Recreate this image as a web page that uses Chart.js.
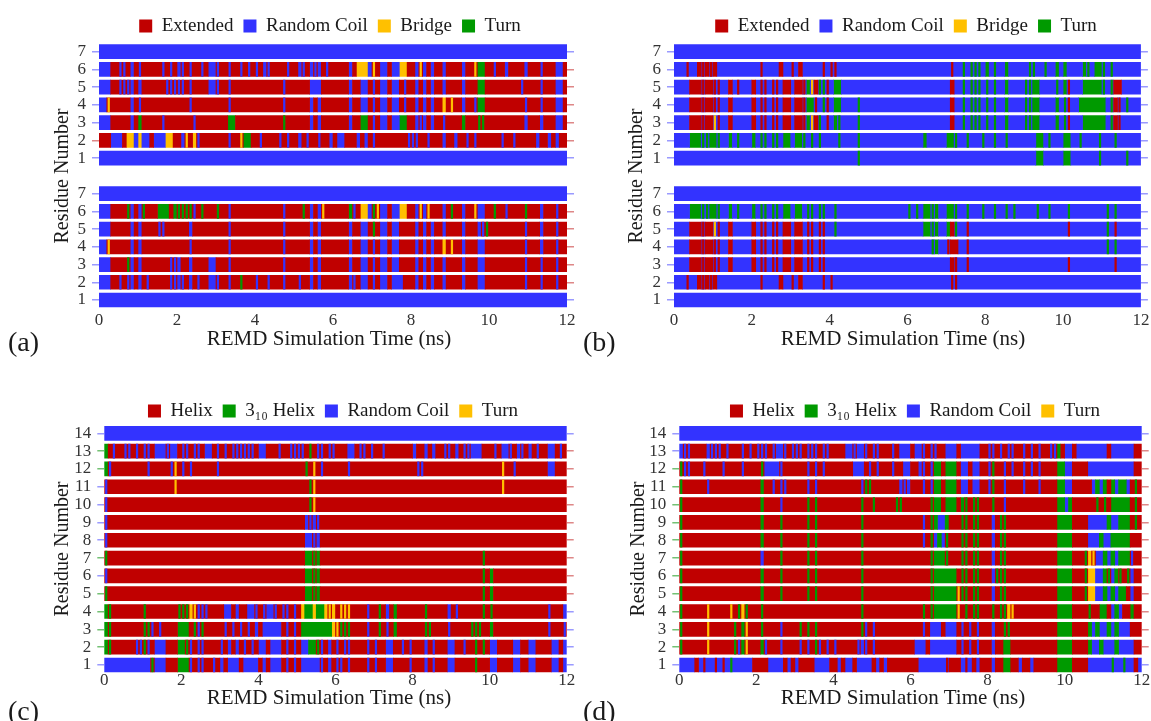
<!DOCTYPE html>
<html>
<head>
<meta charset="utf-8">
<title>REMD secondary structure</title>
<script src="https://cdn.jsdelivr.net/npm/chart.js@4"></script>
<style>
  body { margin: 0; background: #fff; }
  #page { position: relative; width: 1151px; height: 721px; overflow: hidden;
          font-family: 'Liberation Serif', 'Times New Roman', serif; color: #1a1a1a; }
  canvas { position: absolute; }
  .ytitle, .xtitle, .tag { position: absolute; white-space: nowrap; }
  .ytitle { font-size: 20px; transform: translate(-50%, -50%) rotate(-90deg); }
  .xtitle { font-size: 21px; transform: translate(-50%, -50%); }
  .tag { font-size: 28px; transform: translate(0, -50%); }
</style>
</head>
<body>
<div id="page">
  <canvas id="chartA" width="580" height="360" style="left:0;top:0"></canvas>
  <canvas id="chartB" width="571" height="360" style="left:580px;top:0"></canvas>
  <canvas id="chartC" width="580" height="341" style="left:0;top:380px"></canvas>
  <canvas id="chartD" width="571" height="341" style="left:580px;top:380px"></canvas>

  <div class="ytitle" style="left:61px;top:176px">Residue Number</div>
  <div class="ytitle" style="left:635px;top:176px">Residue Number</div>
  <div class="ytitle" style="left:61px;top:549px">Residue Number</div>
  <div class="ytitle" style="left:637px;top:549px">Residue Number</div>

  <div class="xtitle" style="left:329px;top:338px">REMD Simulation Time (ns)</div>
  <div class="xtitle" style="left:903px;top:338px">REMD Simulation Time (ns)</div>
  <div class="xtitle" style="left:329px;top:697px">REMD Simulation Time (ns)</div>
  <div class="xtitle" style="left:903px;top:697px">REMD Simulation Time (ns)</div>

  <div class="tag" style="left:8px;top:342px">(a)</div>
  <div class="tag" style="left:583px;top:342px">(b)</div>
  <div class="tag" style="left:8px;top:711px">(c)</div>
  <div class="tag" style="left:583px;top:711px">(d)</div>
</div>

<script>
// Secondary structure per residue over 0-12 ns, in 0.1 ns frames.
// Row format: "<base>:" + frames. '.' = base state, lower case = whole frame in
// that state, upper case = a brief visit to that state inside a base frame.
// r = red, b = blue, y = yellow, g = green.
const NBINS = 120;
const BIN = 0.1;
const THIN = 0.04;
const timeTicks = [0, 2, 4, 6, 8, 10, 12];

const colors = { r: '#c00000', b: '#3333ff', y: '#ffc000', g: '#009a00' };
const tickTint = { r: 'rgba(205,70,70,0.65)', b: 'rgba(100,100,255,0.65)',
                   y: 'rgba(255,170,0,0.75)', g: 'rgba(40,160,40,0.65)' };

const sheetCodes = ['r', 'b', 'y', 'g'];
const sheetLabels = ['Extended', 'Random Coil', 'Bridge', 'Turn'];
const helixCodes = ['r', 'g', 'b', 'y'];
const helixLabels = ['Helix', '3\u2081\u2080 Helix', 'Random Coil', 'Turn'];

// residues 1..7
const aUpper = [
  "b:",
  "r:...bbb.yyb ybb.bbbyy. .bY.yB.... ...B..Ygg. .B....B.B. .b.B..B..b .bb...b.b. B........B BB..B...b. .b..B.B... ...B..B... ..b..b.b..",
  "r:bbb.....b. g.....B... ....B..... ...gg..... .......G.. ....b.b... ....b..gg. B.bb.bbgg. .bBb.b..B. ...g...GG. .........b ...b...bb.",
  "r:bbY.....b. B......... ...B...... ...B...... .......B.. ....b.b... ....b..bb. B.bb.bb.B. .b.b.b..y. Y..b..Bgg. .........B ...B...bb.",
  "r:bbb..BBBb. b......BBB BB.B....bb B..B...... .......B.. ....bbb... ....b..bb. B.bb.bb.B. .b.b.b..b. ...b...gg. ........B. ...B...bb.",
  "r:bbb..BB.b. B.....B.B. bB.B..B.bb B..B..B.B. B.bB....B. .bB.bBb.B. ....b.yyyb Y.bb.bbyy. .bYb.b..b. ...b..Ygg. .B..b....b ...B...bb.",
  "b:"
];
const aLower = [
  "b:",
  "r:bbb..B.Bb. b.B.....BB bB.b.B..bb B..B..G... B..B...B.. .B..b.b... ....bB.bb. B.bb.bbb.. .b.b.b..b. ...b...bb. .........B ...B...B..",
  "r:bbb....Gb. b.......BB b..b....bb ...B...... .......B.. ....b.b... ....b..bb. B.bb.bb... .b.b.b..b. ...b...bb. .........B ...B...B..",
  "r:bbY.....b. b......... ...B...... ...B...... .......B.. ....b.b... ....b..bb. B.bb.bb... .b.b.b..y. Y..b...bb. .........B ...b...B..",
  "r:bbb.....b. b....BB... ...b...... ...B...... .......B.. ....b.b... ....b..bb. G.bb.bb... .b.b.b..b. ...b...bBG .........B ...b...B..",
  "r:bbb....Gb. bG...ggg.g GGGGB.G... G..B...... .......B.. ..G.b.bY.. ....gB.yyb GYbb.bbyy. .bYbY...b. G..b..Ybb. .G..B....G ...b...B..",
  "b:"
];

const bUpper = [
  "b:.......... .......... .......... .......... .......G.. .......... .......... .......... .......... ...gg..... gg.......G ......G...",
  "b:....gggGGg gG..g.G... g.GG.GG.gg .ggG.G.G.. ..G....G.. .......... ....g..... ggG..G...G ..G..G.... ...gg.G... gg..G....G ...G......",
  "b:....rrrRrr YR..r..... r.RR.RR.rr .rrRgYrG.R .gG....G.. .......... .......... .r..G.GGG. G.G..g.... GGgg....g. GR...ggggg g.GrR.....",
  "b:....rrrRrr RR..r..... r.RR.RR.rr .rrRggR.GR .gg....G.. .......... .......... .r..G.GGG. G.G..g.... GGgg....g. GR..gggggg g.GrR.G...",
  "b:....rrrRrr RR..r.R... r.RR.RR.rr .rrRgYrGGR .gg....... .......... .......... .r..G.GGG. G.G..g.... GGgg....G. gR...ggggg G.Grr.....",
  "b:...R..rRrR r......... ..R....r.. R.r.....R. RR........ .......... .......... .R..G.GGG. g.G..g.... .GG..G..g. g....gG.gg G.G.......",
  "b:"
];
const bLower = [
  "b:",
  "b:...R..rRrR r......... ..R....r.. R.r.....R. R......... .......... .......... .RR.......",
  "b:....rrrRrr RR..r..... r.RR.RR.rr .rr.RR.RR. .......... .......... .......... .rR..R.... .......... .......... .R........ ...R......",
  "b:....rrrRrr RR..r..... r.RR.RR.rr .rr.RR.RR. .......... .......... ......Gg.. Rrr..R.... .......... .......... .......... .G.G......",
  "b:....rrrRrr YR..r..... r.RR.RR.rr .rr.RR.RR. .G........ .......... ....ggGg.. grG..R.... .......... .......... .R........ .G.R......",
  "b:....gggGGg gG..g.G... g.GG.GG.gg .gg.GG.GG. .G........ .......... G.G.ggGg.. ggG..G...G ..G..G.G.. ...G..G... .G........ .G.G......",
  "b:"
];

// residues 1..14
const cRows = [
  "r:bbbbbbbbbb bbGbbb...g ggB.BB..B. b.bbb.bbbb .b.bbb.B.B .bbbbbB.b. BB.B....B. B..bb....B ...b.B...b b.....G... bb....bb.. bb....bb.b",
  "r:gG......BB GB.bbb...g gGB.BB.... B.b.b.B.B. bb.bbb.B.B .bbggGB.b. B.BB....B. B..bb..B.B ...b.B...b b..B..G.G. bb....bb.. bb....bb.b",
  "r:gG........ GGB.B....g gg.GBG.... .B.B.B.B.b .bbbbb.B.B .ggggggggy YGGG....B. .G.B.g.... ...GG....B .....GGG.. g......... .....B...B",
  "r:gG........ G........G GGyYBBB... .bb.b..bbB .BbbB.BB.B .yggyggyYy .YYY....B. .G.b.g.... ...G.....b .B......G. G......... .....B...b",
  "r:G......... .......... .......... .......... .......... ..ggGg.... .......... .......... .......... ........G. g......... ..........",
  "r:B......... .......... .......... .......... .......... ..ggGg.... .......... .......... .......... ........G. g......... ..........",
  "r:G......... .......... .......... .......... .......... ..ggGg.... .......... .......... .......... ........G. .......... ..........",
  "r:B......... .......... .......... .......... .......... ..bbBb....",
  "r:B......... .......... .......... .......... .......... ..bBbB....",
  "r:B......... .......... .......... .......... .......... ...GY.....",
  "r:B......... ........Y. .......... .......... .......... ...GY..... .......... .......... .......... .......... ...Y......",
  "r:gB........ .B.....BY. B.B......B .......... .......... ..G.Y.B... ...B...... .......... .BB....... .......... ...Y..B... .....bb...",
  "r:g.B..BB.B. BB.bbbBbb. BB.BB.bb.B .B.BBBBBB. bb...B..BB BB.G.BB.BB ...bb.BB.B ..B....... b..b.b..BB .b.BBbbb.. .B.bbB.bB. b.B..bb.B.",
  "b:"
];

const dRows = [
  "b:....r.R..R .R.G.....r rrr....r.r .rrrr....r r.r..r.... r.r.rrrrrr rr.......R rrr.R.r.rr r.rrggrr.r r.rrrrrrgg ggrrrr.... ..G..G..r.",
  "r:G......Y.. ....GBgY.. .gB...B... .B.B.GB.B. B.....BbB. B......... .bbb.bbbbb bb.B.B.B.. .b..gg.... ........gg gg....gbbg bbbgbbbb..",
  "r:G......Y.. ....G.gY.. .G....B... .G.G.G.... .......GB. B......... ...B.bbb.b bb.B.B.B.. .b..GG.... ........gg gg....gbgb bgbgbbb...",
  "r:G......Y.. ...Y.GyG.. .G........ .......... .......G.. .......... ...G.Ggggg ggY.G.GG.. .G.GGyY... ........gg gg....G..g g.bgb..g..",
  "r:G......... .......... .g....G... ...G.G.... .......G.. .......... .....Ggggg ggYGG.GG.. .b.GG..... ........gg gg...Gyybb gbgbgg.b..",
  "r:G......... .......... .g....G... ...G.G.... .......G.. .......... .....Ggggg gg.GG.GG.. .bGGG..... ........gg gg...Gyybb gGbgG.Gb..",
  "r:G......... .......... .b....G... ...G.G.... .......G.. .......... .....GgggG ...GG.GG.. .b.GG..... ........gg gg...GyYbb gbgbgggB..",
  "r:G......... .......... .g....G... ...G.G.... .......G.. .......... ...B.GbgbG ...GG.GG.. .b.GG..... ........gg gg....bbbg bbggggg...",
  "r:G......... .......... .g....G... ...G.G.... .......G.. .......... ...B.Ggbbg ...GG.GG.. .b.GG..... ........gg gg....bbbb bgbbggg.G.",
  "r:G......... .......... .g....B... ...G.G.... .......G.. G.....GG.. .....Ggg.g gg.gG.GG.. .G..B..... ........gg bg......G. G.ggggg.G.",
  "r:G......B.. .......... .g..B.BB.. ...B.B.... .......BGG .......bBb ...B.Bgg.g gg.bb.bb.. BG..B....B ...B....gg bb.....bgb g.gbggb.G.",
  "r:GBB...B... .B....B... .GbbbbB... ...B.B.B.. .....bbb.B .B...B..bb ..bB.Bgg.g gg.bb.bb.. BG..B.B..B .B.B....gg bb....bbbb bbbbbbbb..",
  "r:bBB....bBB B.B...B.B. BBB.BbbB.B BB.BBB.BB. ...bbBbbB. BB...B.bbb .bbB.BB..b bb.bbbbb.. BB.B.BB..B .B.B..BBg. bb.bbbbbbb b.bbbbbb..",
  "b:"
];

function decode(row) {
  const base = row[0];
  const groups = row.slice(2).trim().split(/\s+/).filter(Boolean);
  let body = groups.map(g => g.padEnd(10, '.').slice(0, 10)).join('');
  body = body.padEnd(NBINS, '.').slice(0, NBINS);
  const fill = [], thin = [], mark = [];
  for (let i = 0; i < NBINS; i++) {
    const c = body[i];
    if (c === '.') { fill.push(base); mark.push(base); }
    else if (c === c.toLowerCase()) { fill.push(c); mark.push(c); }
    else { fill.push(base); thin.push([i, c.toLowerCase()]); mark.push(c.toLowerCase()); }
  }
  return { fill, thin, first: mark[0], last: mark[NBINS - 1] };
}

function buildDatasets(rowSets, codes, labels) {
  const full = {}, brief = {};
  codes.forEach(c => { full[c] = []; brief[c] = []; });
  const edges = {};
  const rowValues = [];
  rowSets.forEach(({ rows, offset }) => {
    rows.forEach((row, k) => {
      const y = k + 1 + offset;
      rowValues.push(y);
      const { fill, thin, first, last } = decode(row);
      let start = 0;
      for (let i = 1; i <= NBINS; i++) {
        if (i === NBINS || fill[i] !== fill[start]) {
          full[fill[start]].push({ x: [start * BIN, i * BIN], y });
          start = i;
        }
      }
      thin.forEach(([i, c]) => {
        const mid = (i + 0.5) * BIN;
        brief[c].push({ x: [mid - THIN / 2, mid + THIN / 2], y });
      });
      edges[y] = [first, last];
    });
  });
  const common = { barThickness: 14, grouped: false, borderWidth: 0 };
  const datasets = codes.map((c, i) => ({
    label: labels[i], data: full[c], backgroundColor: colors[c], order: 1, ...common
  })).concat(codes.map(c => ({
    label: '', data: brief[c], backgroundColor: colors[c], order: 0, ...common
  })));
  return { datasets, edges, rowValues };
}

// places the legend row at a given centre without changing the plot area
const legendNudge = {
  id: 'legendNudge',
  afterLayout(chart, args, opts) {
    const lg = chart.legend;
    if (!lg) return;
    const dx = opts.centerX - (lg.left + lg.right) / 2;
    lg.left += dx; lg.right += dx;
    lg.top += opts.shift; lg.bottom += opts.shift;
  }
};

function drawPanel(id, rowSets, codes, labels, box) {
  const { datasets, edges, rowValues } = buildDatasets(rowSets, codes, labels);
  const yMax = Math.max(...rowValues) + 0.5;
  const rowTicks = s => { s.ticks = rowValues.map(v => ({ value: v })); };
  const split = rowSets.length > 1;
  const residueOf = v => String(split && v > 8 ? v - 8 : v);
  const edgeColor = side => c => (c.tick && edges[c.tick.value]) ? tickTint[edges[c.tick.value][side]] : 'rgba(0,0,0,0)';
  const tickFont = { family: "'Liberation Serif', serif", size: 17 };

  new Chart(document.getElementById(id), {
    type: 'bar',
    data: { datasets },
    options: {
      indexAxis: 'y',
      responsive: false,
      animation: false,
      events: [],
      layout: { padding: box.pad },
      plugins: {
        legend: {
          position: 'top',
          labels: {
            font: { family: "'Liberation Serif', serif", size: 19 },
            color: '#1a1a1a',
            boxWidth: 13,
            boxHeight: 13,
            padding: 10,
            filter: item => item.text !== ''
          }
        },
        tooltip: { enabled: false },
        legendNudge: { shift: box.legendShift, centerX: box.legendX }
      },
      scales: {
        x: {
          type: 'linear', min: 0, max: 12,
          afterBuildTicks: s => { s.ticks = timeTicks.map(v => ({ value: v })); },
          ticks: { font: tickFont, color: '#333', padding: box.xPad },
          grid: { display: false, drawTicks: false },
          border: { display: false },
          afterFit: s => { s.height = box.xHeight; }
        },
        y: {
          type: 'linear', position: 'left', min: 0.5, max: yMax, offset: false,
          afterBuildTicks: rowTicks,
          ticks: { font: tickFont, color: '#333', padding: 6, autoSkip: false, callback: v => residueOf(v) },
          grid: { offset: false, drawOnChartArea: false, drawTicks: true, tickLength: 7, lineWidth: 1.5, color: edgeColor(0) },
          border: { display: false },
          afterFit: s => { s.width = box.yWidth; }
        },
        yRight: {
          type: 'linear', position: 'right', min: 0.5, max: yMax, offset: false,
          afterBuildTicks: rowTicks,
          ticks: { display: false },
          grid: { offset: false, drawOnChartArea: false, drawTicks: true, tickLength: 7, lineWidth: 1.5, color: edgeColor(1) },
          border: { display: false },
          afterFit: s => { s.width = 8; }
        }
      }
    },
    plugins: [legendNudge]
  });
}

drawPanel('chartA', [{ rows: aLower, offset: 0 }, { rows: aUpper, offset: 8 }], sheetCodes, sheetLabels,
  { pad: { left: 40, right: 5, top: 3.8, bottom: 0 }, yWidth: 59, xHeight: 51.1, xPad: 1.6, legendShift: 2.7, legendX: 330 });
drawPanel('chartB', [{ rows: bLower, offset: 0 }, { rows: bUpper, offset: 8 }], sheetCodes, sheetLabels,
  { pad: { left: 40, right: 1.3, top: 3.8, bottom: 0 }, yWidth: 54, xHeight: 51.1, xPad: 1.6, legendShift: 2.7, legendX: 326 });
drawPanel('chartC', [{ rows: cRows, offset: 0 }], helixCodes, helixLabels,
  { pad: { left: 40, right: 5.3, top: 5.4, bottom: 0 }, yWidth: 64.3, xHeight: 47.1, xPad: -3.6, legendShift: 6.1, legendX: 333 });
drawPanel('chartD', [{ rows: dRows, offset: 0 }], helixCodes, helixLabels,
  { pad: { left: 40, right: 1.3, top: 5.4, bottom: 0 }, yWidth: 59.3, xHeight: 47.1, xPad: -3.6, legendShift: 6.1, legendX: 335 });
</script>
</body>
</html>
